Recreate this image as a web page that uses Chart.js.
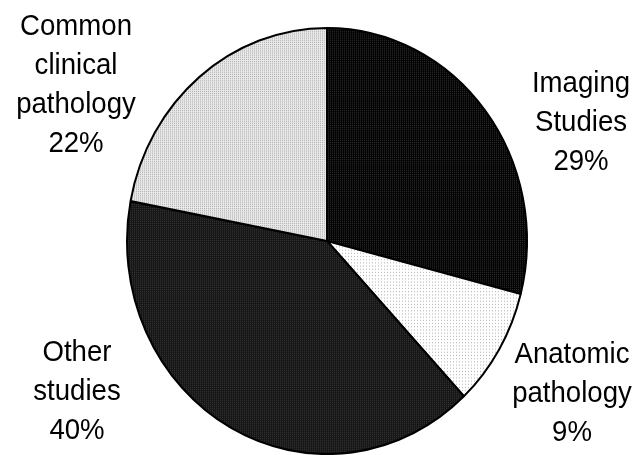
<!DOCTYPE html>
<html>
<head>
<meta charset="utf-8">
<script src="https://cdn.jsdelivr.net/npm/chart.js@4/dist/chart.umd.min.js"></script>
<style>
  html, body { margin: 0; padding: 0; background: #fff; }
  #wrap { width: 636px; height: 455px; }
</style>
</head>
<body>
<div id="wrap"><canvas id="pie" width="636" height="455"></canvas></div>
<script>
// data
const categories = ['Imaging Studies', 'Anatomic pathology', 'Other studies', 'Common clinical pathology'];
const shares = [29, 9, 40, 22];
const labelLines = [
  ['Imaging', 'Studies', '29%'],
  ['Anatomic', 'pathology', '9%'],
  ['Other', 'studies', '40%'],
  ['Common', 'clinical', 'pathology', '22%']
];

// small dotted fills, like the old office print patterns
const dots = (base, dot, size) => {
  const c = document.createElement('canvas');
  c.width = size; c.height = size;
  const g = c.getContext('2d');
  g.fillStyle = base; g.fillRect(0, 0, size, size);
  g.fillStyle = dot; g.fillRect(0, 0, 1, 1);
  return g.createPattern(c, 'repeat');
};
const fills = [
  dots('#030303', '#2e2e2e', 2),
  dots('#ffffff', '#b8b8b8', 3),
  dots('#161616', '#363636', 2),
  dots('#e8e8e8', '#b0b0b0', 2)
];

// where each text block sits (centre x, first line middle y)
const labelSpots = [
  { x: 581, y: 84 },
  { x: 572, y: 355 },
  { x: 77, y: 353 },
  { x: 76, y: 27 }
];
const lineGap = 39;
const squeeze = 0.92;

const stretchY = 1.065;

const ovalPie = {
  id: 'ovalPie',
  beforeDatasetsDraw(chart) {
    const arc = chart.getDatasetMeta(0).data[0];
    const ctx = chart.ctx;
    ctx.save();
    ctx.translate(arc.x, arc.y);
    ctx.scale(1, stretchY);
    ctx.translate(-arc.x, -arc.y);
  },
  afterDatasetsDraw(chart) {
    chart.ctx.restore();
  }
};

const sliceText = {
  id: 'sliceText',
  afterDraw(chart) {
    const ctx = chart.ctx;
    ctx.fillStyle = '#000';
    ctx.font = '30px "Liberation Sans", Arial, sans-serif';
    ctx.textAlign = 'center';
    ctx.textBaseline = 'middle';
    labelLines.forEach((lines, i) => {
      const p = labelSpots[i];
      lines.forEach((t, j) => {
        ctx.save();
        ctx.translate(p.x, p.y + j * lineGap);
        ctx.scale(squeeze, 1);
        ctx.fillText(t, 0, 0);
        ctx.restore();
      });
    });
  }
};

new Chart(document.getElementById('pie'), {
  type: 'pie',
  data: {
    labels: categories,
    datasets: [{
      data: shares,
      backgroundColor: fills,
      borderColor: '#000',
      borderWidth: 2,
      borderAlign: 'center'
    }]
  },
  options: {
    responsive: false,
    devicePixelRatio: 1,
    animation: false,
    rotation: 0,
    layout: { padding: { left: 126, right: 108, top: 40, bottom: 13 } },
    plugins: {
      legend: { display: false },
      tooltip: { enabled: false }
    }
  },
  plugins: [ovalPie, sliceText]
});
</script>
</body>
</html>
